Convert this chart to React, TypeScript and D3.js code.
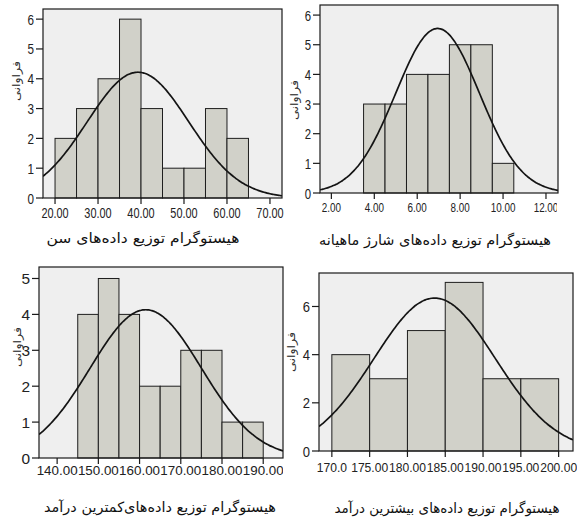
import React from "react";
import * as d3 from "d3";

// سن
const ageBinStarts = [20, 25, 30, 35, 40, 45, 50, 55, 60];
const ageCounts = [2, 3, 4, 6, 3, 1, 1, 3, 2];
const ageTicks = [20, 30, 40, 50, 60, 70];
const ageTickLabels = ["20.00", "30.00", "40.00", "50.00", "60.00", "70.00"];
const ageYTicks = [0, 1, 2, 3, 4, 5, 6];
const ageFit = { mean: 39.3, sd: 11.8, peak: 4.22 };

// شارژ ماهیانه
const chargeBinStarts = [3.5, 4.5, 5.5, 6.5, 7.5, 8.5, 9.5];
const chargeCounts = [3, 3, 4, 4, 5, 5, 1];
const chargeTicks = [2, 4, 6, 8, 10, 12];
const chargeTickLabels = ["2.00", "4.00", "6.00", "8.00", "10.00", "12.00"];
const chargeYTicks = [0, 1, 2, 3, 4, 5, 6];
const chargeFit = { mean: 6.95, sd: 1.95, peak: 5.55 };

// کمترین درآمد
const minIncBinStarts = [145, 150, 155, 160, 165, 170, 175, 180, 185];
const minIncCounts = [4, 5, 4, 2, 2, 3, 3, 1, 1];
const minIncTicks = [140, 150, 160, 170, 180, 190];
const minIncTickLabels = ["140.00", "150.00", "160.00", "170.00", "180.00", "190.00"];
const minIncYTicks = [0, 1, 2, 3, 4, 5];
const minIncFit = { mean: 161.5, sd: 13.5, peak: 4.13 };

// بیشترین درآمد
const maxIncBinStarts = [170, 175, 180, 185, 190, 195];
const maxIncCounts = [4, 3, 5, 7, 3, 3];
const maxIncTicks = [170, 175, 180, 185, 190, 195, 200];
const maxIncTickLabels = ["170.0", "175.00", "180.00", "185.00", "190.00", "195.00", "200.00"];
const maxIncYTicks = [0, 2, 4, 6];
const maxIncFit = { mean: 183.6, sd: 8.0, peak: 6.35 };

const yAxisTitle = "فراوانی";

const panels = [
  {
    id: "age", title: "هیستوگرام توزیع داده‌های سن",
    bins: ageBinStarts, counts: ageCounts, binWidth: 5,
    ticks: ageTicks, tickLabels: ageTickLabels, yTicks: ageYTicks, fit: ageFit,
    left: 43, right: 282, top: 9, bottom: 198, xDomain: [17.2, 72.8], yMax: 6.34,
    clipRight: 285, sx: 0.78, font: 14, yFont: 15, labelDy: 20,
    titleX: 143, titleY: 243, titleLen: 193, yTitleX: 16, yTitleY: 81,
  },
  {
    id: "charge", title: "هیستوگرام توزیع داده‌های شارژ ماهیانه",
    bins: chargeBinStarts, counts: chargeCounts, binWidth: 1,
    ticks: chargeTicks, tickLabels: chargeTickLabels, yTicks: chargeYTicks, fit: chargeFit,
    left: 320, right: 558, top: 5, bottom: 193, xDomain: [1.47, 12.56], yMax: 6.34,
    clipRight: 557, sx: 0.76, font: 13, yFont: 15, labelDy: 19,
    titleX: 435, titleY: 245, titleLen: 232, yTitleX: 294, yTitleY: 100,
  },
  {
    id: "minInc", title: "هیستوگرام توزیع داده‌های‌کمترین درآمد",
    bins: minIncBinStarts, counts: minIncCounts, binWidth: 5,
    ticks: minIncTicks, tickLabels: minIncTickLabels, yTicks: minIncYTicks, fit: minIncFit,
    left: 39, right: 283, top: 267, bottom: 458, xDomain: [135.6, 194.8], yMax: 5.32,
    clipRight: 283, sx: 1.03, font: 13, yFont: 15, labelDy: 17,
    titleX: 160, titleY: 512, titleLen: 232, yTitleX: 17, yTitleY: 347,
  },
  {
    id: "maxInc", title: "هیستوگرام توزیع داده‌های بیشترین درآمد",
    bins: maxIncBinStarts, counts: maxIncCounts, binWidth: 5,
    ticks: maxIncTicks, tickLabels: maxIncTickLabels, yTicks: maxIncYTicks, fit: maxIncFit,
    left: 319, right: 573, top: 273, bottom: 451, xDomain: [168.3, 201.9], yMax: 7.39,
    clipRight: 577, sx: 0.93, font: 13, yFont: 14, labelDy: 21,
    titleX: 447, titleY: 513, titleLen: 225, yTitleX: 291, yTitleY: 352,
  },
];

const numFont = "'Liberation Sans', Arial, sans-serif";
const faFont = "'DejaVu Sans', 'Noto Sans', sans-serif";

function Panel({ p }: { p: any }) {
  const x = d3.scaleLinear().domain(p.xDomain).range([p.left, p.right]);
  const y = d3.scaleLinear().domain([0, p.yMax]).range([p.bottom, p.top]);
  const xs = d3.range(0, 161).map((i) => p.xDomain[0] + ((p.xDomain[1] - p.xDomain[0]) * i) / 160);
  const line = d3
    .line<number>()
    .x((d) => x(d))
    .y((d) => y(p.fit.peak * Math.exp(-0.5 * Math.pow((d - p.fit.mean) / p.fit.sd, 2))))
    .curve(d3.curveBasis);

  return (
    <g>
      <defs>
        <clipPath id={"plot-" + p.id}>
          <rect x={p.left} y={p.top} width={p.right - p.left} height={p.bottom - p.top} />
        </clipPath>
        <clipPath id={"lab-" + p.id}>
          <rect x={p.left - 40} y={p.top - 10} width={p.clipRight - p.left + 40} height={p.bottom - p.top + 40} />
        </clipPath>
      </defs>
      <rect x={p.left} y={p.top} width={p.right - p.left} height={p.bottom - p.top} fill="#efefef" />
      {p.bins.map((b: number, i: number) => (
        <rect
          key={i}
          x={x(b)}
          y={y(p.counts[i])}
          width={x(b + p.binWidth) - x(b)}
          height={y(0) - y(p.counts[i])}
          fill="#d1d1c9"
          stroke="#1e1e1e"
          strokeWidth={1}
        />
      ))}
      <path d={line(xs) || ""} fill="none" stroke="#141414" strokeWidth={1.7} clipPath={`url(#plot-${p.id})`} />
      <rect x={p.left} y={p.top} width={p.right - p.left} height={p.bottom - p.top} fill="none" stroke="#1a1a1a" strokeWidth={1.2} />
      {/* y axis */}
      {p.yTicks.map((t: number) => (
        <g key={"y" + t}>
          <line x1={p.left - 7} x2={p.left} y1={y(t)} y2={y(t)} stroke="#1a1a1a" strokeWidth={1.2} />
          <text
            transform={`translate(${p.left - 9},${y(t) + 5.5}) scale(${p.sx},1)`}
            textAnchor="end"
            fontFamily={numFont}
            fontSize={p.yFont}
            fill="#222"
          >
            {t}
          </text>
        </g>
      ))}
      {/* x axis */}
      <g clipPath={`url(#lab-${p.id})`}>
        {p.ticks.map((t: number, i: number) => (
          <g key={"x" + t}>
            <line x1={x(t)} x2={x(t)} y1={p.bottom} y2={p.bottom + 6} stroke="#1a1a1a" strokeWidth={1.2} />
            <text
              transform={`translate(${x(t)},${p.bottom + p.labelDy}) scale(${p.sx},1)`}
              textAnchor="middle"
              fontFamily={numFont}
              fontSize={p.font}
              fill="#222"
            >
              {p.tickLabels[i]}
            </text>
          </g>
        ))}
      </g>
      <text
        transform={`translate(${p.yTitleX + 4},${p.yTitleY}) rotate(-90)`}
        textAnchor="middle"
        fontFamily={faFont}
        fontSize={11}
        fill="#333"
        direction="rtl"
        textLength={40}
        lengthAdjust="spacingAndGlyphs"
      >
        {yAxisTitle}
      </text>
      <text
        x={p.titleX}
        y={p.titleY}
        textAnchor="middle"
        fontFamily={faFont}
        fontSize={14}
        fill="#111"
        direction="rtl"
        textLength={p.titleLen}
        lengthAdjust="spacingAndGlyphs"
      >
        {p.title}
      </text>
    </g>
  );
}

export default function App() {
  return (
    <svg
      width={577}
      height={517}
      style={{ position: "absolute", left: 0, top: 0, background: "#fff" }}
    >
      {panels.map((p) => (
        <Panel key={p.id} p={p} />
      ))}
    </svg>
  );
}
